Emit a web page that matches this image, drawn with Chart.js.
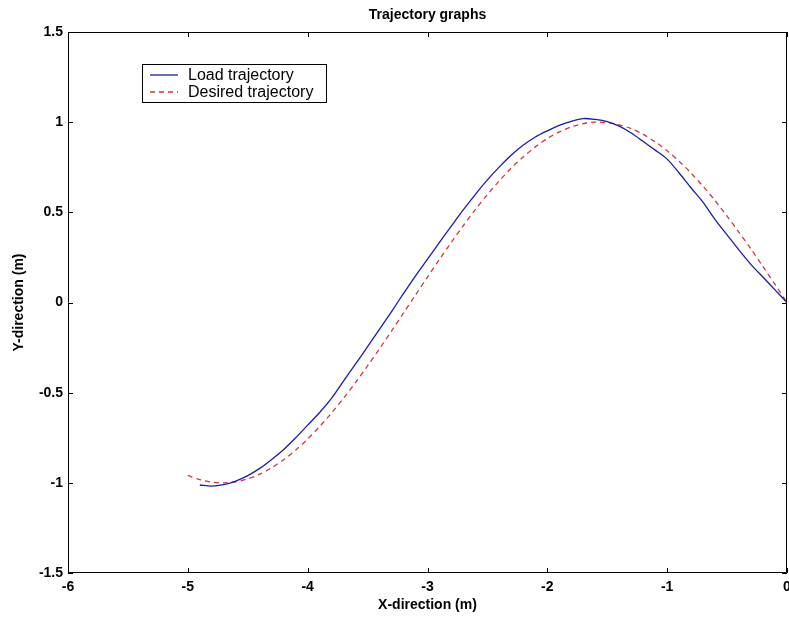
<!DOCTYPE html>
<html><head><meta charset="utf-8">
<script src="https://cdn.jsdelivr.net/npm/chart.js@4.4.1/dist/chart.umd.min.js"></script>
<style>html,body{margin:0;padding:0;background:#fff;overflow:hidden;}</style>
</head><body>
<canvas id="c" width="789" height="617"></canvas>
<script>
// ---- data ----
const chartTitle = 'Trajectory graphs';
const xTitle = 'X-direction (m)';
const yTitle = 'Y-direction (m)';
const seriesNames = ['Load trajectory', 'Desired trajectory'];

const loadX = [-4.9,-4.8,-4.7,-4.6,-4.5,-4.4,-4.3,-4.2,-4.1,-4.0,-3.9,-3.8,-3.7,-3.6,-3.5,-3.4,-3.3,-3.2,-3.1,-3.0,-2.9,-2.8,-2.7,-2.6,-2.5,-2.4,-2.3,-2.2,-2.1,-2.0,-1.9,-1.8,-1.7,-1.6,-1.5,-1.4,-1.3,-1.2,-1.1,-1.0,-0.9,-0.8,-0.7,-0.6,-0.5,-0.4,-0.3,-0.2,-0.1,0.0];
const loadY = [-1.012,-1.018,-1.01,-0.99,-0.96,-0.92,-0.87,-0.815,-0.75,-0.68,-0.61,-0.53,-0.435,-0.34,-0.245,-0.148,-0.05,0.05,0.148,0.24,0.333,0.425,0.515,0.6,0.68,0.752,0.818,0.873,0.918,0.952,0.982,1.005,1.02,1.015,1.003,0.978,0.94,0.893,0.845,0.795,0.718,0.635,0.555,0.46,0.375,0.29,0.21,0.14,0.07,0.0];

const desiredX = [-5.0,-4.9,-4.8,-4.7,-4.6,-4.5,-4.4,-4.3,-4.2,-4.1,-4.0,-3.9,-3.8,-3.7,-3.6,-3.5,-3.4,-3.3,-3.2,-3.1,-3.0,-2.9,-2.8,-2.7,-2.6,-2.5,-2.4,-2.3,-2.2,-2.1,-2.0,-1.9,-1.8,-1.7,-1.6,-1.5,-1.4,-1.3,-1.2,-1.1,-1.0,-0.9,-0.8,-0.7,-0.6,-0.5,-0.4,-0.3,-0.2,-0.1,0.0];
const desiredY = [-0.959,-0.982,-0.996,-1.0,-0.994,-0.978,-0.952,-0.916,-0.872,-0.818,-0.757,-0.688,-0.612,-0.53,-0.443,-0.351,-0.256,-0.158,-0.058,0.042,0.141,0.239,0.335,0.427,0.516,0.598,0.675,0.746,0.808,0.863,0.909,0.946,0.974,0.992,1.0,0.997,0.985,0.964,0.932,0.891,0.841,0.783,0.717,0.644,0.565,0.479,0.389,0.296,0.199,0.1,0.0];

const xTicks = [-6,-5,-4,-3,-2,-1,0];
const yTicks = [-1.5,-1,-0.5,0,0.5,1,1.5];

// ---- styling ----
const FONT = '"Liberation Sans", Arial, Helvetica, sans-serif';
const BLUE = '#1c1caa';
const RED = '#cc3a3a';

const toPts = (xs, ys) => xs.map((x, i) => ({x, y: ys[i]}));

const framePlugin = {
  id: 'frame',
  afterDatasetsDraw(chart) {
    const {ctx, chartArea: a, scales} = chart;
    ctx.save();
    // title, centred over the plot box
    ctx.fillStyle = '#000';
    ctx.font = 'bold 14px ' + FONT;
    ctx.textAlign = 'center';
    ctx.textBaseline = 'middle';
    ctx.fillText(chartTitle, (a.left + a.right) / 2, 15);

    ctx.strokeStyle = '#000';
    ctx.lineWidth = 1;
    ctx.beginPath();
    ctx.rect(Math.round(a.left) + 0.5, Math.round(a.top) + 0.5, Math.round(a.right - a.left) - 1, Math.round(a.bottom - a.top) - 1);
    ctx.stroke();
    const L = 5;
    ctx.beginPath();
    xTicks.forEach(v => {
      const px = Math.round(scales.x.getPixelForValue(v)) + 0.5;
      ctx.moveTo(px, a.bottom); ctx.lineTo(px, a.bottom - L);
      ctx.moveTo(px, a.top); ctx.lineTo(px, a.top + L);
    });
    yTicks.forEach(v => {
      const py = Math.round(scales.y.getPixelForValue(v)) + 0.5;
      ctx.moveTo(a.left, py); ctx.lineTo(a.left + L, py);
      ctx.moveTo(a.right, py); ctx.lineTo(a.right - L, py);
    });
    ctx.stroke();

    // legend box
    const bx = 142.5, by = 64.5, bw = 184, bh = 38;
    ctx.fillStyle = '#fff';
    ctx.fillRect(bx, by, bw, bh);
    ctx.strokeRect(bx, by, bw, bh);
    const rows = [by + 10.5, by + 27.5];
    chart.data.datasets.forEach((ds, i) => {
      ctx.strokeStyle = ds.borderColor;
      ctx.lineWidth = 1.3;
      ctx.setLineDash(ds.borderDash || []);
      ctx.beginPath();
      ctx.moveTo(150, rows[i]); ctx.lineTo(178, rows[i]);
      ctx.stroke();
      ctx.setLineDash([]);
      ctx.fillStyle = '#000';
      ctx.font = '16px ' + FONT;
      ctx.textBaseline = 'middle';
      ctx.textAlign = 'left';
      ctx.fillText(ds.label, 188, rows[i] + 1);
    });
    ctx.restore();
  }
};

new Chart(document.getElementById('c'), {
  type: 'scatter',
  data: {
    datasets: [
      { label: seriesNames[0], data: toPts(loadX, loadY), showLine: true, borderColor: BLUE, backgroundColor: BLUE, borderWidth: 1.3, pointRadius: 0, tension: 0.3 },
      { label: seriesNames[1], data: toPts(desiredX, desiredY), showLine: true, borderColor: RED, backgroundColor: RED, borderWidth: 1.3, borderDash: [5, 4], pointRadius: 0, tension: 0.3 }
    ]
  },
  options: {
    responsive: false,
    animation: false,
    devicePixelRatio: 1,
    layout: { padding: { left: 0, right: 2, top: 32, bottom: 0 } },
    plugins: {
      legend: { display: false },
      tooltip: { enabled: false },
      title: { display: false }
    },
    scales: {
      x: {
        type: 'linear', min: -6, max: 0,
        afterBuildTicks: s => { s.ticks = xTicks.map(v => ({value: v})); },
        afterFit: s => { s.height = 44; s.paddingRight = 0; s.paddingLeft = 0; },
        grid: { display: false, drawTicks: false },
        border: { display: false },
        ticks: { color: '#000', padding: 6, font: { family: FONT, size: 14, weight: 'bold' }, maxRotation: 0, callback: v => String(v) },
        title: { display: true, text: xTitle, color: '#000', font: { family: FONT, size: 14, weight: 'bold' }, padding: { top: 0, bottom: 3.6 } }
      },
      y: {
        type: 'linear', min: -1.5, max: 1.5,
        afterBuildTicks: s => { s.ticks = yTicks.map(v => ({value: v})); },
        afterFit: s => { s.width = 68; s.paddingTop = 0; s.paddingBottom = 0; },
        grid: { display: false, drawTicks: false },
        border: { display: false },
        ticks: { color: '#000', padding: 5, font: { family: FONT, size: 14, weight: 'bold' }, callback: v => String(v) },
        title: { display: true, text: yTitle, color: '#000', font: { family: FONT, size: 14, weight: 'bold' }, padding: { top: 10.5, bottom: 0 } }
      }
    }
  },
  plugins: [framePlugin]
});
</script>
</body></html>
